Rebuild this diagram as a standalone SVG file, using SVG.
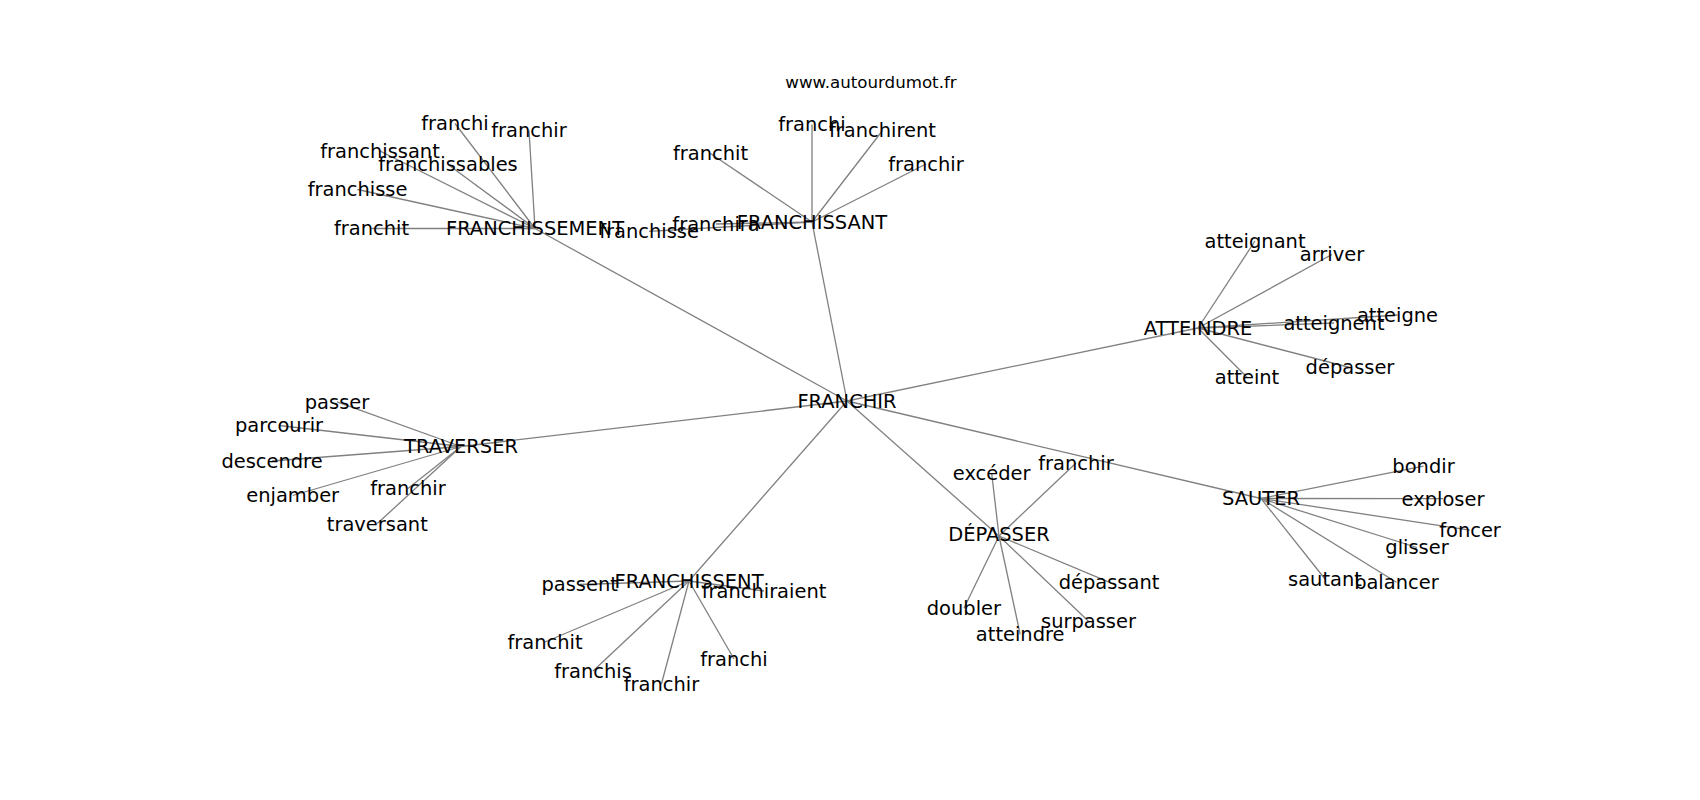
<svg xmlns="http://www.w3.org/2000/svg" width="1700" height="800" viewBox="0 0 1700 800">
<style>
.e line{stroke:#808080;stroke-width:1.3;fill:none}
text{font-family:"DejaVu Sans","Liberation Sans",sans-serif;font-size:19.44px;fill:#000;text-anchor:middle}
.t{font-size:16.67px}
</style>
<rect width="1700" height="800" fill="#fff"/>
<text class="t" x="871" y="87.7">www.autourdumot.fr</text>
<g id="edges" class="e">
<line x1="847" y1="401" x2="535" y2="228.5"/>
<line x1="847" y1="401" x2="812" y2="222"/>
<line x1="847" y1="401" x2="1198" y2="328"/>
<line x1="847" y1="401" x2="461" y2="446.5"/>
<line x1="847" y1="401" x2="689" y2="581"/>
<line x1="847" y1="401" x2="999" y2="536"/>
<line x1="847" y1="401" x2="1261" y2="498.5"/>
<line x1="535" y1="228.5" x2="455" y2="123.5"/>
<line x1="535" y1="228.5" x2="529" y2="130.5"/>
<line x1="535" y1="228.5" x2="380" y2="151"/>
<line x1="535" y1="228.5" x2="448" y2="164.5"/>
<line x1="535" y1="228.5" x2="357.5" y2="189.5"/>
<line x1="535" y1="228.5" x2="371.5" y2="228.5"/>
<line x1="812" y1="222" x2="710.5" y2="153.5"/>
<line x1="812" y1="222" x2="812" y2="124.5"/>
<line x1="812" y1="222" x2="882.5" y2="130.5"/>
<line x1="812" y1="222" x2="926" y2="164"/>
<line x1="812" y1="222" x2="716" y2="224"/>
<line x1="812" y1="222" x2="649" y2="231.3"/>
<line x1="1198" y1="328" x2="1255" y2="241"/>
<line x1="1198" y1="328" x2="1332" y2="254.5"/>
<line x1="1198" y1="328" x2="1334" y2="323"/>
<line x1="1198" y1="328" x2="1397.5" y2="315"/>
<line x1="1198" y1="328" x2="1350" y2="367.5"/>
<line x1="1198" y1="328" x2="1247" y2="377.3"/>
<line x1="461" y1="446.5" x2="337" y2="401.8"/>
<line x1="461" y1="446.5" x2="279" y2="425.5"/>
<line x1="461" y1="446.5" x2="272" y2="461"/>
<line x1="461" y1="446.5" x2="292.7" y2="495.5"/>
<line x1="461" y1="446.5" x2="408" y2="488.5"/>
<line x1="461" y1="446.5" x2="377.3" y2="523.6"/>
<line x1="689" y1="581" x2="579.7" y2="584.5"/>
<line x1="689" y1="581" x2="764" y2="591"/>
<line x1="689" y1="581" x2="545" y2="642"/>
<line x1="689" y1="581" x2="593" y2="671"/>
<line x1="689" y1="581" x2="661.4" y2="684"/>
<line x1="689" y1="581" x2="734" y2="659"/>
<line x1="999" y1="536" x2="991.7" y2="473.5"/>
<line x1="999" y1="536" x2="1076" y2="463"/>
<line x1="999" y1="536" x2="1109" y2="582.2"/>
<line x1="999" y1="536" x2="1088.5" y2="621.2"/>
<line x1="999" y1="536" x2="1020.2" y2="634.3"/>
<line x1="999" y1="536" x2="963.9" y2="608.2"/>
<line x1="1261" y1="498.5" x2="1423.5" y2="466.2"/>
<line x1="1261" y1="498.5" x2="1443" y2="498.7"/>
<line x1="1261" y1="498.5" x2="1470" y2="530.2"/>
<line x1="1261" y1="498.5" x2="1417" y2="547.5"/>
<line x1="1261" y1="498.5" x2="1396.4" y2="582.2"/>
<line x1="1261" y1="498.5" x2="1325" y2="579"/>
</g>
<g id="n-franchir-hub"><text x="847" y="408">FRANCHIR</text></g>
<g id="n-franchissement"><text x="535" y="235.4">FRANCHISSEMENT</text></g>
<g id="n-franchissant"><text x="812" y="229.4">FRANCHISSANT</text></g>
<g id="n-atteindre"><text x="1198" y="334.9">ATTEINDRE</text></g>
<g id="n-traverser"><text x="461" y="453.4">TRAVERSER</text></g>
<g id="n-franchissent"><text x="689" y="587.9">FRANCHISSENT</text></g>
<g id="n-depasser"><text x="999" y="540.5">DÉPASSER</text></g>
<g id="n-sauter"><text x="1261" y="505.4">SAUTER</text></g>
<g id="n-fm-franchi"><text x="455" y="130.4">franchi</text></g>
<g id="n-fm-franchir"><text x="529" y="137.4">franchir</text></g>
<g id="n-fm-franchissant"><text x="380" y="157.9">franchissant</text></g>
<g id="n-fm-franchissables"><text x="448" y="171.4">franchissables</text></g>
<g id="n-fm-franchisse"><text x="357.5" y="196.4">franchisse</text></g>
<g id="n-fm-franchit"><text x="371.5" y="235.4">franchit</text></g>
<g id="n-fa-franchit"><text x="710.5" y="160.4">franchit</text></g>
<g id="n-fa-franchi"><text x="812" y="131.4">franchi</text></g>
<g id="n-fa-franchirent"><text x="882.5" y="137.4">franchirent</text></g>
<g id="n-fa-franchir"><text x="926" y="170.9">franchir</text></g>
<g id="n-fa-franchira"><text x="716" y="230.9">franchira</text></g>
<g id="n-fa-franchisse"><text x="649" y="238.2">franchisse</text></g>
<g id="n-at-atteignant"><text x="1255" y="247.9">atteignant</text></g>
<g id="n-at-arriver"><text x="1332" y="261.4">arriver</text></g>
<g id="n-at-atteignent"><text x="1334" y="329.9">atteignent</text></g>
<g id="n-at-atteigne"><text x="1397.5" y="321.9">atteigne</text></g>
<g id="n-at-depasser"><text x="1350" y="374.4">dépasser</text></g>
<g id="n-at-atteint"><text x="1247" y="384.2">atteint</text></g>
<g id="n-tr-passer"><text x="337" y="408.7">passer</text></g>
<g id="n-tr-parcourir"><text x="279" y="432.4">parcourir</text></g>
<g id="n-tr-descendre"><text x="272" y="467.9">descendre</text></g>
<g id="n-tr-enjamber"><text x="292.7" y="502.4">enjamber</text></g>
<g id="n-tr-franchir"><text x="408" y="495.4">franchir</text></g>
<g id="n-tr-traversant"><text x="377.3" y="530.5">traversant</text></g>
<g id="n-fe-passent"><text x="579.7" y="591.4">passent</text></g>
<g id="n-fe-franchiraient"><text x="764" y="597.9">franchiraient</text></g>
<g id="n-fe-franchit"><text x="545" y="648.9">franchit</text></g>
<g id="n-fe-franchis"><text x="593" y="677.9">franchis</text></g>
<g id="n-fe-franchir"><text x="661.4" y="690.9">franchir</text></g>
<g id="n-fe-franchi"><text x="734" y="665.9">franchi</text></g>
<g id="n-de-exceder"><text x="991.7" y="480.4">excéder</text></g>
<g id="n-de-franchir"><text x="1076" y="469.9">franchir</text></g>
<g id="n-de-depassant"><text x="1109" y="589.1">dépassant</text></g>
<g id="n-de-surpasser"><text x="1088.5" y="628.1">surpasser</text></g>
<g id="n-de-atteindre"><text x="1020.2" y="641.2">atteindre</text></g>
<g id="n-de-doubler"><text x="963.9" y="615.1">doubler</text></g>
<g id="n-sa-bondir"><text x="1423.5" y="473.1">bondir</text></g>
<g id="n-sa-exploser"><text x="1443" y="505.6">exploser</text></g>
<g id="n-sa-foncer"><text x="1470" y="537.1">foncer</text></g>
<g id="n-sa-glisser"><text x="1417" y="554.4">glisser</text></g>
<g id="n-sa-balancer"><text x="1396.4" y="589.1">balancer</text></g>
<g id="n-sa-sautant"><text x="1325" y="585.9">sautant</text></g>
</svg>
